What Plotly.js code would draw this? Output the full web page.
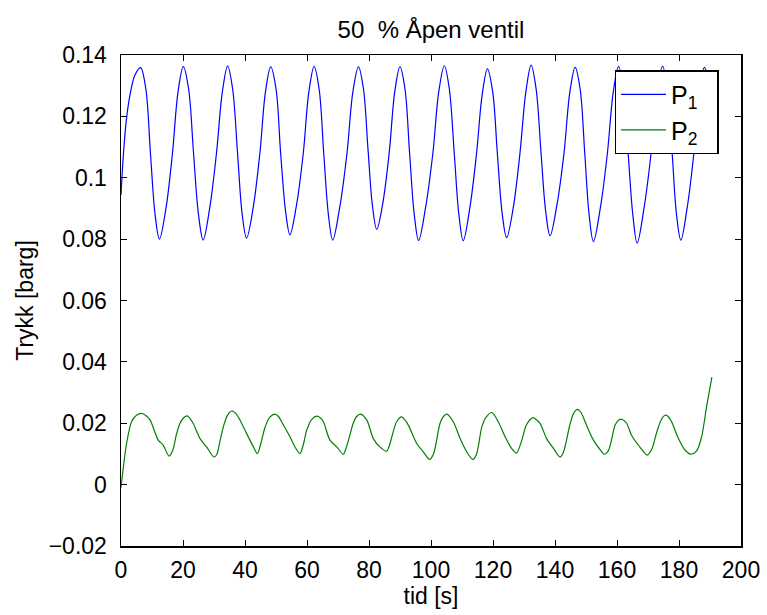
<!DOCTYPE html>
<html>
<head>
<meta charset="utf-8">
<script src="https://cdn.plot.ly/plotly-3.0.1.min.js"></script>
<style>
html,body{margin:0;padding:0;background:#fff;}
#chart{width:767px;height:615px;}
</style>
</head>
<body>
<div id="chart"></div>
<script>
// P1 (blue): time [s] and pressure [barg]
const p1Time = [0, 0.8, 1.8, 3.0, 4.5, 6.3,
  8.0, 9.5, 11.0, 12.4, 14.5, 16.6, 18.4, 20.1,
  21.8, 23.4, 25.0, 26.5, 28.6, 30.8, 32.7, 34.4,
  36.0, 37.6, 39.1, 40.5, 42.6, 44.8, 46.6, 48.3,
  50.0, 51.5, 53.1, 54.5, 56.6, 58.8, 60.6, 62.3,
  63.9, 65.4, 66.9, 68.3, 70.5, 72.9, 74.8, 76.6,
  78.2, 79.7, 81.1, 82.5, 84.5, 86.6, 88.3, 90.0,
  91.6, 93.1, 94.6, 96.0, 98.2, 100.6, 102.5, 104.3,
  105.9, 107.5, 109.0, 110.4, 112.5, 114.7, 116.5, 118.2,
  119.9, 121.4, 123.0, 124.4, 126.5, 128.7, 130.6, 132.3,
  133.9, 135.5, 137.0, 138.4, 140.6, 142.9, 144.8, 146.5,
  148.1, 149.6, 151.0, 152.4, 154.6, 156.9, 158.8, 160.5,
  162.1, 163.6, 165.1, 166.5, 168.7, 171.0, 172.9, 174.7,
  176.3, 177.8, 179.2, 180.6, 182.6, 184.8, 186.6, 188.2,
  189.5, 190.6];
const p1Values = [0.0944, 0.108, 0.1195, 0.1275, 0.1335, 0.1359,
  0.129, 0.108, 0.088, 0.0800, 0.090, 0.108, 0.128, 0.1362,
  0.129, 0.108, 0.088, 0.0797, 0.090, 0.108, 0.128, 0.1364,
  0.129, 0.108, 0.088, 0.0803, 0.090, 0.108, 0.128, 0.1361,
  0.129, 0.108, 0.089, 0.0814, 0.091, 0.108, 0.128, 0.1362,
  0.129, 0.108, 0.088, 0.0797, 0.090, 0.108, 0.128, 0.1361,
  0.129, 0.109, 0.091, 0.0832, 0.092, 0.109, 0.128, 0.1361,
  0.129, 0.108, 0.088, 0.0796, 0.090, 0.108, 0.128, 0.1365,
  0.129, 0.108, 0.088, 0.0795, 0.090, 0.108, 0.127, 0.1355,
  0.128, 0.108, 0.088, 0.0805, 0.090, 0.108, 0.128, 0.1367,
  0.129, 0.108, 0.089, 0.0811, 0.091, 0.108, 0.128, 0.1360,
  0.129, 0.108, 0.088, 0.0792, 0.090, 0.108, 0.128, 0.1362,
  0.129, 0.108, 0.088, 0.0787, 0.090, 0.108, 0.128, 0.1363,
  0.129, 0.108, 0.088, 0.0797, 0.090, 0.108, 0.128, 0.1360,
  0.132, 0.124];

// P2 (green)
const p2Time = [0, 0.8, 1.8, 3.4, 5.0, 6.7, 8.0, 9.4, 10.8, 12.0, 13.6, 15.5,
  16.7, 17.8, 19.0, 20.2, 21.4, 22.3, 23.3, 25.5, 27.6, 30.0,
  30.9, 32.0, 33.0, 34.3, 35.7, 37.0, 38.4, 40.5, 42.7, 44.0,
  45.0, 46.5, 48.0, 49.7, 50.8, 51.8, 54.5, 56.0, 57.7,
  58.8, 59.9, 61.5, 63.1, 64.3, 65.3, 67.4, 69.6, 71.7,
  72.8, 74.9, 76.0, 77.3, 79.3, 81.4, 83.5, 85.7,
  86.5, 88.9, 90.5, 91.5, 92.7, 95.4, 97.5, 99.5,
  100.8, 102.9, 104.0, 105.1, 107.2, 109.4, 111.5, 113.5,
  114.7, 116.4, 117.8, 119.6, 121.7, 123.9, 126.0, 127.6,
  129.3, 130.8, 132.8, 133.8, 135.2, 137.3, 139.5, 141.6,
  142.7, 144.8, 146.0, 147.2, 148.4, 149.7, 152.4, 155.1, 155.8,
  157.2, 159.4, 160.5, 161.5, 163.1, 164.7, 166.9, 169.8,
  171.2, 172.8, 174.2, 175.5, 176.5, 177.6, 179.8, 182.0, 183.9,
  185.7, 187.3, 188.9, 190.6];
const p2Values = [-0.0010, 0.0060, 0.0134, 0.0205, 0.0226, 0.0232, 0.0225, 0.0210, 0.0175, 0.0145, 0.0129, 0.0093,
  0.0112, 0.0160, 0.0199, 0.0218, 0.0224, 0.0215, 0.0199, 0.0150, 0.0123, 0.0090,
  0.0098, 0.0145, 0.0188, 0.0225, 0.0240, 0.0232, 0.0210, 0.0167, 0.0123, 0.0101,
  0.0130, 0.0188, 0.0220, 0.0230, 0.0222, 0.0205, 0.0156, 0.0125, 0.0101,
  0.0130, 0.0177, 0.0212, 0.0223, 0.0218, 0.0205, 0.0145, 0.0123, 0.0099,
  0.0125, 0.0199, 0.0222, 0.0230, 0.0210, 0.0150, 0.0123, 0.0109,
  0.0125, 0.0205, 0.0221, 0.0212, 0.0194, 0.0134, 0.0107, 0.0082,
  0.0100, 0.0199, 0.0222, 0.0230, 0.0205, 0.0150, 0.0107, 0.0082,
  0.0100, 0.0188, 0.0220, 0.0235, 0.0205, 0.0156, 0.0118, 0.0103,
  0.0145, 0.0195, 0.0218, 0.0213, 0.0199, 0.0150, 0.0118, 0.0090,
  0.0105, 0.0195, 0.0232, 0.0245, 0.0235, 0.0205, 0.0145, 0.0107, 0.0099,
  0.0110, 0.0194, 0.0210, 0.0213, 0.0200, 0.0161, 0.0129, 0.0096,
  0.0115, 0.0170, 0.0210, 0.0226, 0.0222, 0.0205, 0.0150, 0.0112, 0.0099,
  0.0110, 0.0156, 0.0254, 0.0350];

const xTickVals = [0, 20, 40, 60, 80, 100, 120, 140, 160, 180, 200];
const yTickVals = [-0.02, 0, 0.02, 0.04, 0.06, 0.08, 0.1, 0.12, 0.14];
const yTickText = ["\u22120.02", "0", "0.02", "0.04", "0.06", "0.08", "0.1", "0.12", "0.14"];

const FONT = "Liberation Sans, Arial, Helvetica, sans-serif";

const traces = [
  {x: p1Time, y: p1Values, type: 'scatter', mode: 'lines', name: 'P<sub>1</sub>  ', legendgroup: 'g1',
   line: {color: '#0000ff', width: 1.2, shape: 'spline', smoothing: 1}},
  {x: p2Time, y: p2Values, type: 'scatter', mode: 'lines', name: 'P<sub>2</sub>  ', legendgroup: 'g2',
   line: {color: '#008000', width: 1.2, shape: 'spline', smoothing: 0.8}}
];

const axisCommon = {
  showgrid: false, zeroline: false, showline: true, mirror: 'ticks',
  linecolor: '#000', linewidth: 1.5, ticks: 'inside', ticklen: 6, tickwidth: 1,
  tickcolor: '#000', tickfont: {family: FONT, size: 23, color: '#000'}
};

const layout = {
  width: 767, height: 615,
  margin: {l: 121, r: 26, t: 55, b: 69, pad: 0},
  paper_bgcolor: '#fff', plot_bgcolor: '#fff',
  font: {family: FONT, size: 23, color: '#000'},
  title: {text: '50\u00a0 % \u00c5pen ventil', font: {family: FONT, size: 24, color: '#000'},
          xref: 'paper', x: 0.5, xanchor: 'center', yref: 'container', y: 0.952, yanchor: 'middle'},
  xaxis: Object.assign({}, axisCommon, {
    range: [0, 200], tickmode: 'array', tickvals: xTickVals, ticklabelstandoff: 3,
    title: {text: 'tid [s]', font: {family: FONT, size: 23, color: '#000'}, standoff: 1}
  }),
  yaxis: Object.assign({}, axisCommon, {
    range: [-0.02, 0.14], tickmode: 'array', tickvals: yTickVals, ticktext: yTickText, ticklabelstandoff: 8,
    title: {text: 'Trykk [barg]', font: {family: FONT, size: 23, color: '#000'}, standoff: 8}
  }),
  showlegend: true,
  legend: {x: 0.796, y: 0.969, xanchor: 'left', yanchor: 'top', bgcolor: '#fff',
           bordercolor: '#000', borderwidth: 1.5, font: {family: FONT, size: 25, color: '#000'},
           traceorder: 'grouped', tracegroupgap: 0, itemwidth: 45}
};

Plotly.newPlot('chart', traces, layout, {displayModeBar: false, staticPlot: true});
</script>
</body>
</html>
